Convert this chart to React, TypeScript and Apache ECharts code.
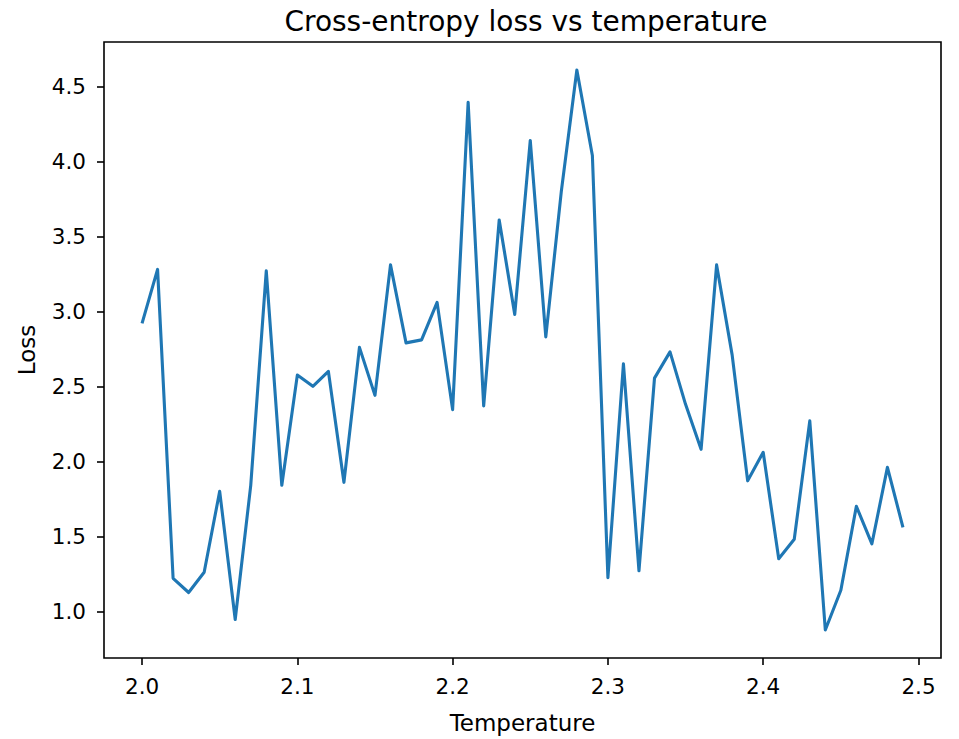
import React, { useEffect, useRef } from "react";
import * as echarts from "echarts";

const temperatures: number[] = [
  2.0, 2.01, 2.02, 2.03, 2.04, 2.05, 2.06, 2.07, 2.08, 2.09,
  2.1, 2.11, 2.12, 2.13, 2.14, 2.15, 2.16, 2.17, 2.18, 2.19,
  2.2, 2.21, 2.22, 2.23, 2.24, 2.25, 2.26, 2.27, 2.28, 2.29,
  2.3, 2.31, 2.32, 2.33, 2.34, 2.35, 2.36, 2.37, 2.38, 2.39,
  2.4, 2.41, 2.42, 2.43, 2.44, 2.45, 2.46, 2.47, 2.48, 2.49,
];

const losses: number[] = [
  2.92, 3.28, 1.22, 1.125, 1.26, 1.8, 0.945, 1.84, 3.27, 1.84,
  2.575, 2.5, 2.6, 1.86, 2.76, 2.44, 3.31, 2.79, 2.81, 3.06,
  2.345, 4.395, 2.37, 3.61, 2.98, 4.14, 2.83, 3.8, 4.61, 4.04,
  1.224, 2.65, 1.27, 2.555, 2.73, 2.38, 2.08, 3.31, 2.71, 1.87,
  2.06, 1.35, 1.48, 2.27, 0.875, 1.14, 1.7, 1.45, 1.96, 1.56,
];

const xTicks: number[] = [2.0, 2.1, 2.2, 2.3, 2.4, 2.5];
const yTicks: number[] = [1.0, 1.5, 2.0, 2.5, 3.0, 3.5, 4.0, 4.5];

const FONT = "DejaVu Sans";

export default function App() {
  const ref = useRef<HTMLDivElement>(null);
  useEffect(() => {
    if (!ref.current) return;
    const chart = echarts.init(ref.current, null, { renderer: "svg" });
    const xMin = 2.0 - 0.0245;
    const xMax = 2.49 + 0.0245;
    const yLo = Math.min(...losses);
    const yHi = Math.max(...losses);
    const yPad = (yHi - yLo) * 0.05;
    chart.setOption({
      animation: false,
      backgroundColor: "#ffffff",
      title: {
        text: "Cross-entropy loss vs temperature",
        left: 521,
        top: 2,
        textAlign: "center",
        textStyle: { fontFamily: FONT, fontSize: 28, fontWeight: "normal", color: "#000" },
      },
      grid: {
        left: 104,
        top: 42,
        width: 837,
        height: 626,
        show: true,
        borderColor: "#000",
        borderWidth: 1.6,
        backgroundColor: "transparent",
      },
      xAxis: {
        type: "value",
        min: xMin,
        max: xMax,
        name: "Temperature",
        nameLocation: "middle",
        nameGap: 53,
        nameTextStyle: { fontFamily: FONT, fontSize: 23, color: "#000" },
        axisLine: { show: false },
        axisTick: {
          show: true,
          inside: false,
          length: 7,
          customValues: xTicks,
          lineStyle: { color: "#000", width: 1.6 },
        },
        axisLabel: {
          show: true,
          margin: 17,
          customValues: xTicks,
          formatter: (v: number) => v.toFixed(1),
          fontFamily: FONT,
          fontSize: 21.5,
          color: "#000",
        },
        splitLine: { show: false },
      },
      yAxis: {
        type: "value",
        min: yLo - yPad,
        max: yHi + yPad,
        name: "Loss",
        nameLocation: "middle",
        nameGap: 66,
        nameRotate: 90,
        nameTextStyle: { fontFamily: FONT, fontSize: 23, color: "#000" },
        axisLine: { show: false },
        axisTick: {
          show: true,
          inside: false,
          length: 7,
          customValues: yTicks,
          lineStyle: { color: "#000", width: 1.6 },
        },
        axisLabel: {
          show: true,
          margin: 18,
          customValues: yTicks,
          formatter: (v: number) => v.toFixed(1),
          fontFamily: FONT,
          fontSize: 21.5,
          color: "#000",
        },
        splitLine: { show: false },
      },
      series: [
        {
          type: "line",
          data: temperatures.map((t, i) => [t, losses[i]]),
          showSymbol: false,
          symbol: "none",
          lineStyle: { color: "#1f77b4", width: 3.1, join: "round", cap: "butt" },
          itemStyle: { color: "#1f77b4" },
        },
      ],
    });
    return () => chart.dispose();
  }, []);
  return (
    <div
      ref={ref}
      style={{ position: "fixed", left: 0, top: 0, width: 959, height: 739 }}
    />
  );
}
